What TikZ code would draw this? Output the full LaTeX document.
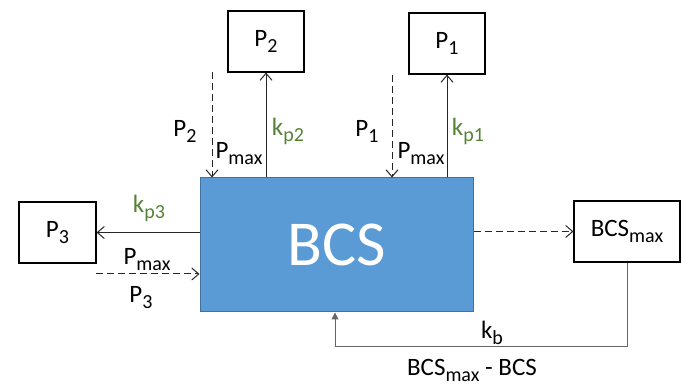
\documentclass[tikz,border=0pt]{standalone}
\usepackage{fontspec}
\setmainfont{Carlito}
\usetikzlibrary{arrows.meta}
\definecolor{bcsblue}{RGB}{91,155,213}
\definecolor{bcsedge}{RGB}{65,113,156}
\definecolor{kgreen}{RGB}{84,130,53}
\newcommand{\sbs}[1]{\raisebox{-6pt}{\fontsize{20}{20}\selectfont #1}}
\tikzset{
  box/.style={draw=black, line width=1.1pt, fill=white, inner sep=0pt, font=\fontsize{25}{28}\selectfont},
  lbl/.style={inner sep=0pt, font=\fontsize{25}{28}\selectfont},
  glbl/.style={lbl, text=kgreen},
  solidarrow/.style={draw=black!85, line width=1pt, -{Straight Barb[length=7pt,width=12pt]}},
  dasharrow/.style={draw=black!85, line width=1pt, dash pattern=on 7pt off 4pt, -{Straight Barb[length=7pt,width=12pt]}},
  fbline/.style={draw=black!60, line width=1pt, -{Triangle[length=7pt,width=7pt]}, black!60}
}
\begin{document}
\begin{tikzpicture}[x=1pt,y=-1pt]
\useasboundingbox (0,0) rectangle (681,387);
% main block
\node[draw=bcsedge, line width=1pt, fill=bcsblue, minimum width=273pt, minimum height=134pt, inner sep=0pt,
      text=white, font=\fontsize{64}{70}\selectfont] (bcs) at (336.5,245) {BCS};
% boxes
\node[box, minimum width=76pt, minimum height=61pt] (p2) at (266,41.5) {P\sbs{2}};
\node[box, minimum width=76pt, minimum height=61pt] (p1) at (447,43.5) {P\sbs{1}};
\node[box, minimum width=77pt, minimum height=61pt] (p3) at (57.5,232.5) {P\sbs{3}};
\node[box, minimum width=106pt, minimum height=61pt] (bmax) at (627,231.5) {BCS\sbs{max}};
% coordinates for free ends
\coordinate (d2) at (212,72);
\coordinate (d1) at (392,75);
\coordinate (d3) at (96,274);
\coordinate (fbc) at (335,347);
% connectors top
\draw[solidarrow] (bcs.north -| p2) -- (p2.south);
\draw[solidarrow] (bcs.north -| p1) -- (p1.south);
\draw[dasharrow] (d2) -- (d2 |- bcs.north);
\draw[dasharrow] (d1) -- (d1 |- bcs.north);
% left
\draw[solidarrow] (bcs.west |- p3) -- (p3.east);
\draw[dasharrow] (d3) -- (d3 -| bcs.west);
% right
\draw[dasharrow] (bcs.east |- bmax) -- (bmax.west);
% feedback
\draw[fbline] (bmax.south) |- (fbc) -- (fbc |- bcs.south);
% labels
\node[lbl] (lp2) at (185,131) {P\sbs{2}};
\node[lbl] (lpm2) at (239,154) {P\sbs{max}};
\node[glbl] (lk2) at (288,131) {k\sbs{p2}};
\node[lbl] (lp1) at (367,131) {P\sbs{1}};
\node[lbl] (lpm1) at (421,154) {P\sbs{max}};
\node[glbl] (lk1) at (468,131) {k\sbs{p1}};
\node[glbl] (lk3) at (149,208) {k\sbs{p3}};
\node[lbl] (lpm3) at (147,260) {P\sbs{max}};
\node[lbl] (lp3) at (141,298) {P\sbs{3}};
\node[lbl] (lkb) at (492,333) {k\sbs{b}};
\node[lbl] (ldiff) at (472,370) {BCS\sbs{max} - BCS};
\end{tikzpicture}
\end{document}
